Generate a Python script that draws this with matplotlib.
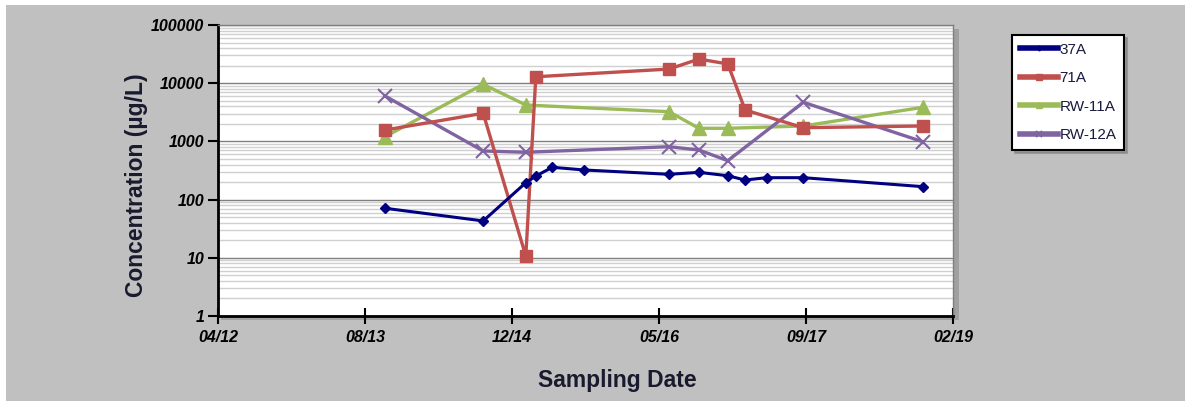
import matplotlib
matplotlib.use("Agg")
import matplotlib.pyplot as plt
import matplotlib.dates as mdates
from matplotlib.patches import Rectangle
from matplotlib.ticker import LogLocator, FixedLocator, NullFormatter
import numpy as np
import datetime as dt

# ---- data ----
dates_37A = ["2013-10-21", "2014-09-20", "2015-02-12", "2015-03-18", "2015-05-13", "2015-08-29",
             "2016-06-13", "2016-09-23", "2016-12-30", "2017-02-27", "2017-05-11", "2017-09-13",
             "2018-10-24"]
vals_37A = [71, 43, 195, 254, 359, 323, 272, 294, 257, 217, 238, 238, 167]

dates_71A = ["2013-10-21", "2014-09-20", "2015-02-12", "2015-03-18", "2016-06-13", "2016-09-23",
             "2016-12-30", "2017-02-27", "2017-09-13", "2018-10-24"]
vals_71A = [1570, 3040, 10.7, 12900, 17500, 26000, 21400, 3460, 1720, 1840]

dates_RW11A = ["2013-10-21", "2014-09-20", "2015-02-12", "2016-06-13", "2016-09-23", "2016-12-30",
               "2017-09-13", "2018-10-24"]
vals_RW11A = [1205, 9570, 4220, 3240, 1680, 1680, 1840, 3850]

dates_RW12A = ["2013-10-21", "2014-09-20", "2015-02-12", "2016-06-13", "2016-09-23", "2016-12-30",
               "2017-09-13", "2018-10-24"]
vals_RW12A = [6030, 684, 650, 811, 711, 466, 4700, 988]

tick_dates = ["2012-04-01", "2013-08-14", "2014-12-27", "2016-05-10", "2017-09-22", "2019-02-04"]
y_ticks = [1, 10, 100, 1000, 10000, 100000]
y_ticklabels = ["1", "10", "100", "1000", "10000", "100000"]

def d(lst):
    return [dt.datetime.strptime(s, "%Y-%m-%d") for s in lst]

plt.rcParams['font.family'] = ['Liberation Sans', 'DejaVu Sans']

W, H = 1185, 401
fig = plt.figure(figsize=(W / 100, H / 100), dpi=100)
fig.patch.set_facecolor("white")
# grey chart area
fig.add_artist(Rectangle((6 / W, 0), 1 - 6 / W, 1 - 5 / H, transform=fig.transFigure,
                         facecolor="#c0c0c0", edgecolor="none", zorder=-10))

L, R, T, B = 218, 953, 25, 316
ax = fig.add_axes([L / W, 1 - B / H, (R - L) / W, (B - T) / H])
# plot-area shadow
fig.add_artist(Rectangle(((L + 3) / W, 1 - (B + 4) / H), (R - L + 3) / W, (B - T) / H,
                         transform=fig.transFigure, facecolor="#a0a0a0", edgecolor="none", zorder=-5))
ax.set_facecolor("white")

ax.set_yscale("log")
ax.set_ylim(1, 100000)
ax.set_xlim(d(tick_dates)[0], d(tick_dates)[-1])

# gridlines
ax.yaxis.set_minor_locator(LogLocator(base=10, subs=np.arange(2, 10)))
ax.yaxis.set_minor_formatter(NullFormatter())
ax.grid(True, which="major", axis="y", color="#7f7f7f", linewidth=1.0, zorder=0)
ax.grid(True, which="minor", axis="y", color="#d0d0d0", linewidth=1.0, zorder=0)
ax.set_axisbelow(True)

c37 = "#000080"
c71 = "#C0504D"
c11 = "#9BBB59"
c12 = "#8064A2"

ax.plot(d(dates_37A), vals_37A, color=c37, marker="D", markersize=5.5, linewidth=2.2, label="37A", zorder=5)
ax.plot(d(dates_71A), vals_71A, color=c71, marker="s", markersize=9, linewidth=2.4, label="71A", zorder=4)
ax.plot(d(dates_RW11A), vals_RW11A, color=c11, marker="^", markersize=10, linewidth=2.4, label="RW-11A", zorder=3)
ax.plot(d(dates_RW12A), vals_RW12A, color=c12, marker="x", markersize=10, markeredgewidth=1.5,
        linewidth=2.4, label="RW-12A", zorder=3)

# ticks
ax.xaxis.set_major_locator(FixedLocator(mdates.date2num(d(tick_dates))))
ax.xaxis.set_major_formatter(mdates.DateFormatter("%m/%y"))
ax.set_yticks(y_ticks)
ax.set_yticklabels(y_ticklabels)
ax.tick_params(axis="x", which="major", direction="inout", length=12, width=1.5, pad=4,
               labelsize=11.5)
ax.tick_params(axis="y", which="major", direction="out", length=7, width=1.5, pad=3,
               labelsize=11.5)
ax.tick_params(axis="y", which="minor", length=0)
for lbl in ax.get_xticklabels() + ax.get_yticklabels():
    lbl.set_fontweight("bold")
    lbl.set_fontstyle("italic")

for side in ["left", "bottom"]:
    ax.spines[side].set_linewidth(2)
    ax.spines[side].set_color("black")
ax.spines["top"].set_color("#7f7f7f")
ax.spines["top"].set_linewidth(1)
ax.spines["right"].set_color("#7f7f7f")
ax.spines["right"].set_linewidth(1)

ax.set_xlabel("Sampling Date", fontsize=16.5, fontweight="bold", color="#1a1a2e")
ax.set_ylabel("Concentration (µg/L)", fontsize=16.5, fontweight="bold", color="#1a1a2e")
ax.xaxis.set_label_coords((617 - L) / (R - L), (B - 380) / (B - T), transform=ax.transAxes)
ax.yaxis.set_label_coords((137 - L) / (R - L), (B - 185) / (B - T), transform=ax.transAxes)
ax.xaxis.label.set_va("center")
ax.yaxis.label.set_va("center")

leg = fig.legend(loc="upper left", bbox_to_anchor=(1012 / W, 1 - 35 / H), frameon=True,
                 fontsize=11, handlelength=2.5, markerscale=0.45, borderpad=0.5, borderaxespad=0,
                 labelspacing=0.95, handletextpad=0.1, fancybox=False,
                 shadow={"color": "#808080", "alpha": 0.6})
leg.get_frame().set_edgecolor("black")
leg.get_frame().set_linewidth(1.5)
for t in leg.get_texts():
    t.set_color("#1a1a3e")
for line in leg.get_lines():
    line.set_linewidth(4)

fig.savefig("out.png", dpi=100, facecolor=fig.get_facecolor())
